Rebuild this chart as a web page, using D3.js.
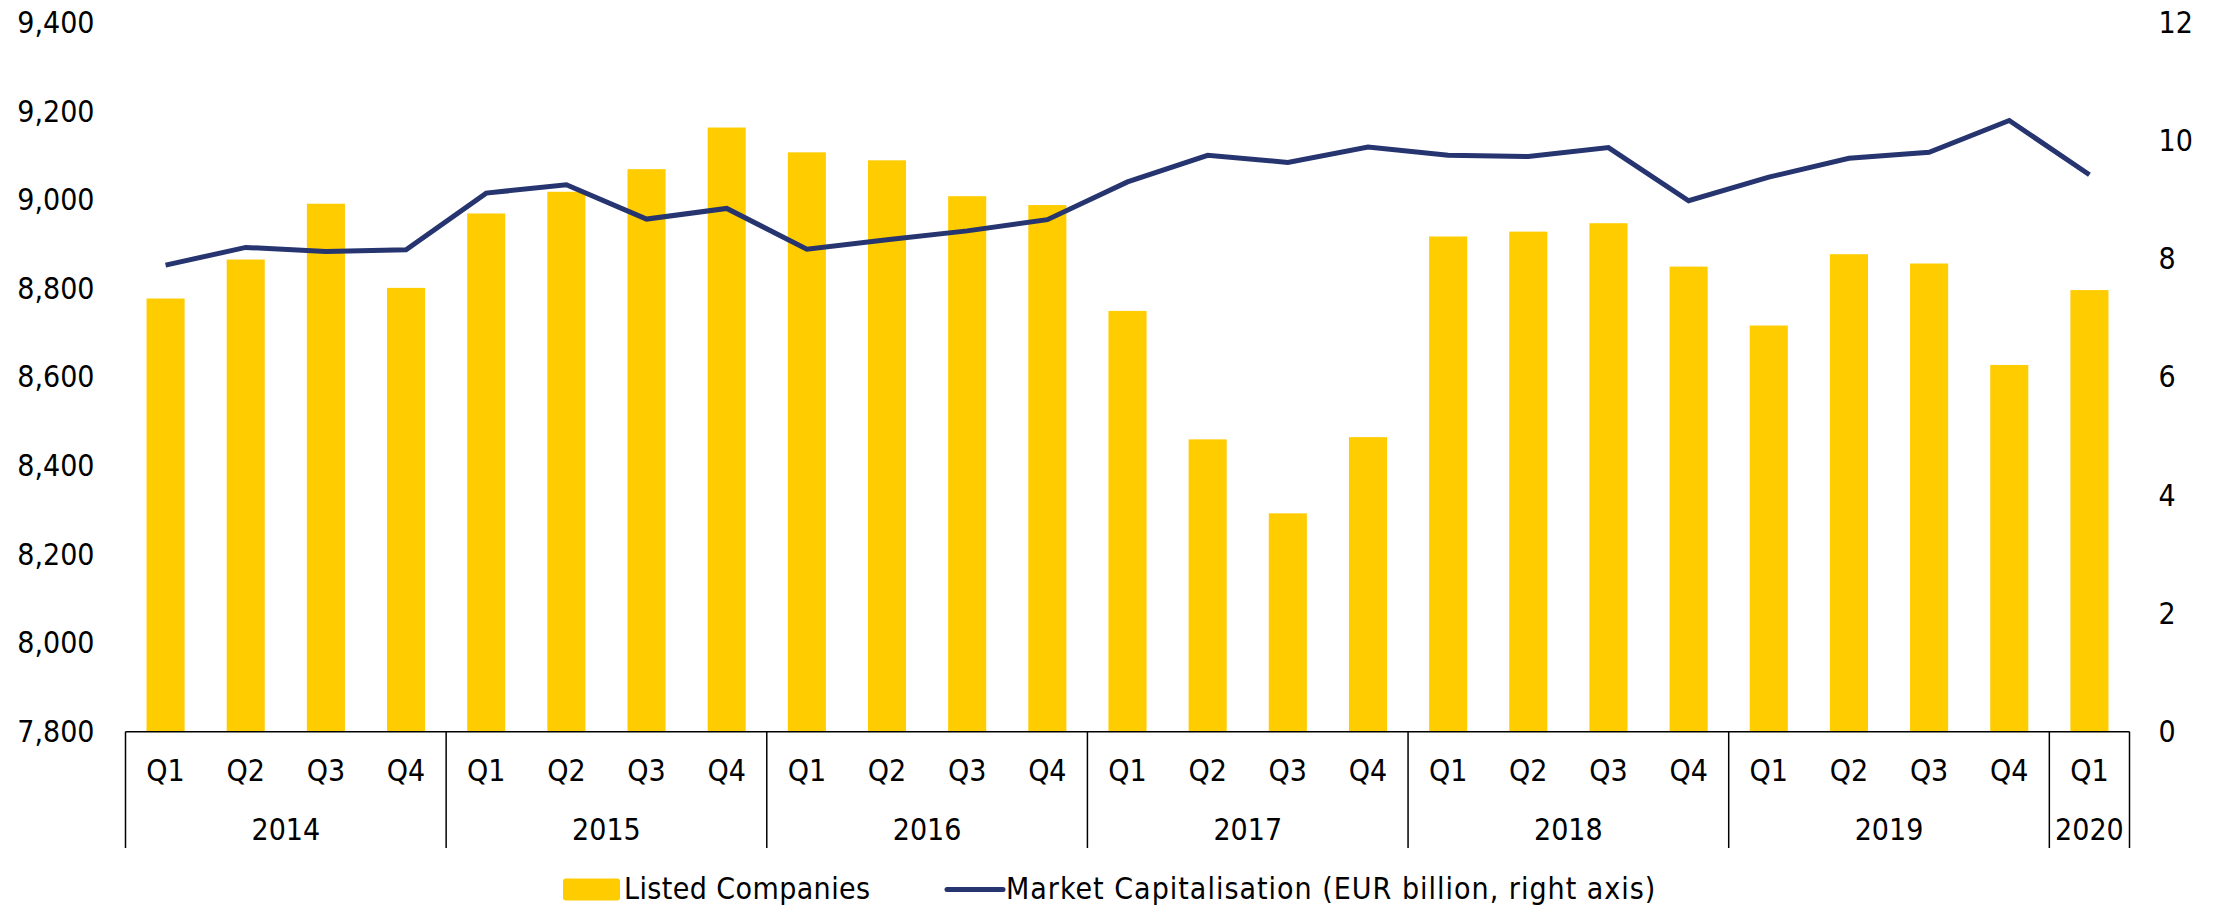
<!DOCTYPE html>
<html>
<head>
<meta charset="utf-8">
<script src="https://cdn.jsdelivr.net/npm/d3@7"></script>
<style>
  html, body { margin: 0; padding: 0; background: #fff; }
  svg text { font-family: 'DejaVu Sans Condensed', 'DejaVu Sans', sans-serif; font-stretch: condensed; fill: #000; }
</style>
</head>
<body>
<div id="chart"></div>
<script>
// ---- data ----
const years = ['2014', '2015', '2016', '2017', '2018', '2019', '2020']
const quarterLabels = ['Q1','Q2','Q3','Q4','Q1','Q2','Q3','Q4','Q1','Q2','Q3','Q4','Q1','Q2','Q3','Q4',
                       'Q1','Q2','Q3','Q4','Q1','Q2','Q3','Q4','Q1']
const quarterYears = ['2014','2014','2014','2014','2015','2015','2015','2015','2016','2016','2016','2016',
                      '2017','2017','2017','2017','2018','2018','2018','2018','2019','2019','2019','2019','2020']
const listedCompanies = [8778, 8866, 8992, 8802, 8970, 9019, 9070, 9164, 9108, 9090, 9009, 8989,
                         8750, 8460, 8293, 8465, 8918, 8929, 8948, 8850, 8717, 8878, 8857, 8628, 8797]
const marketCap = [7.90, 8.20, 8.13, 8.16, 9.12, 9.26, 8.68, 8.86, 8.17, 8.33, 8.48, 8.67,
                   9.31, 9.76, 9.64, 9.90, 9.76, 9.74, 9.89, 8.99, 9.39, 9.71, 9.81, 10.35, 9.43]
const leftTicks = [7800, 8000, 8200, 8400, 8600, 8800, 9000, 9200, 9400]
const rightTicks = [0, 2, 4, 6, 8, 10, 12]
const legendLabels = ['Listed Companies', 'Market Capitalisation (EUR billion, right axis)']

// ---- layout ----
const chartW = 2224, chartH = 908
const plotLeft = 125.5, plotRight = 2129.5, plotTop = 23, plotBottom = 731.7
const barColor = '#FFCC00', lineColor = '#26346F'

const svg = d3.select('#chart').append('svg')
    .attr('width', chartW)
    .attr('height', chartH)

const idx = d3.range(listedCompanies.length)
const x = d3.scaleBand().domain(idx).range([plotLeft, plotRight]).padding(0)
const barW = x.bandwidth() * 0.475
const yL = d3.scaleLinear().domain([7800, 9400]).range([plotBottom, plotTop])
const yR = d3.scaleLinear().domain([0, 12]).range([plotBottom, plotTop])

// bars
svg.append('g').selectAll('rect').data(idx).join('rect')
    .attr('x', i => x(i) + (x.bandwidth() - barW) / 2)
    .attr('y', i => yL(listedCompanies[i]))
    .attr('width', barW)
    .attr('height', i => plotBottom - yL(listedCompanies[i]))
    .attr('fill', barColor)

// line
const line = d3.line()
    .x(i => x(i) + x.bandwidth() / 2)
    .y(i => yR(marketCap[i]))
svg.append('path')
    .datum(idx)
    .attr('d', line)
    .attr('fill', 'none')
    .attr('stroke', lineColor)
    .attr('stroke-width', 5)
    .attr('stroke-linejoin', 'miter')

// left axis
const gL = svg.append('g')
    .attr('transform', 'translate(' + plotLeft + ',0)')
    .call(d3.axisLeft(yL).tickValues(leftTicks).tickFormat(d3.format(',')).tickSize(0).tickPadding(31))
gL.select('.domain').remove()
gL.attr('font-family', null).attr('font-size', null)
gL.selectAll('text').style('font-size', '30px')

// right axis
const gR = svg.append('g')
    .attr('transform', 'translate(' + plotRight + ',0)')
    .call(d3.axisRight(yR).tickValues(rightTicks).tickSize(0).tickPadding(29))
gR.select('.domain').remove()
gR.attr('font-family', null).attr('font-size', null)
gR.selectAll('text').style('font-size', '30px')

// category axis: quarters + years
const gX = svg.append('g')
gX.append('line')
    .attr('x1', plotLeft).attr('x2', plotRight)
    .attr('y1', plotBottom).attr('y2', plotBottom)
    .attr('stroke', '#000').attr('stroke-width', 1.5)

gX.selectAll('.qLabel').data(idx).join('text')
    .attr('class', 'qLabel')
    .attr('x', i => x(i) + x.bandwidth() / 2)
    .attr('y', 781)
    .attr('text-anchor', 'middle')
    .style('font-size', '30px')
    .text(i => quarterLabels[i])

const yearGroups = years.map(yr => {
    const members = idx.filter(i => quarterYears[i] == yr)
    return { year: yr, first: members[0], last: members[members.length - 1] }
})

gX.selectAll('.yLabel').data(yearGroups).join('text')
    .attr('class', 'yLabel')
    .attr('x', d => (x(d.first) + x(d.last) + x.bandwidth()) / 2)
    .attr('y', 840)
    .attr('text-anchor', 'middle')
    .style('font-size', '30px')
    .text(d => d.year)

const dividers = [plotLeft].concat(yearGroups.map(d => x(d.last) + x.bandwidth()))
gX.selectAll('.divider').data(dividers).join('line')
    .attr('class', 'divider')
    .attr('x1', d => d).attr('x2', d => d)
    .attr('y1', plotBottom).attr('y2', 848)
    .attr('stroke', '#000').attr('stroke-width', 1.5)

// legend
const leg = svg.append('g')
leg.append('rect')
    .attr('x', 563).attr('y', 878.5)
    .attr('width', 57).attr('height', 22).attr('rx', 3)
    .attr('fill', barColor)
leg.append('text')
    .attr('x', 624).attr('y', 899)
    .style('font-size', '30px')
    .style('letter-spacing', '0.4px')
    .text(legendLabels[0])
leg.append('line')
    .attr('x1', 947).attr('x2', 1003)
    .attr('y1', 889.5).attr('y2', 889.5)
    .attr('stroke', lineColor).attr('stroke-width', 5).attr('stroke-linecap', 'round')
leg.append('text')
    .attr('x', 1006).attr('y', 899)
    .style('font-size', '30px')
    .style('letter-spacing', '1px')
    .text(legendLabels[1])
</script>
</body>
</html>
